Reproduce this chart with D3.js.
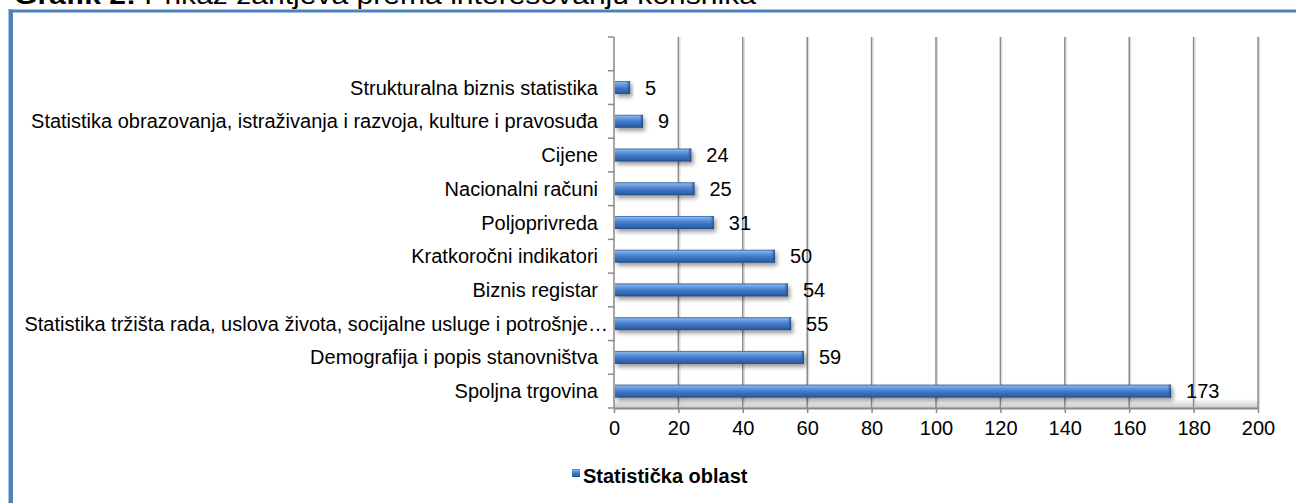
<!DOCTYPE html>
<html>
<head>
<meta charset="utf-8">
<script src="https://cdn.jsdelivr.net/npm/d3@7"></script>
<style>
  html, body { margin: 0; padding: 0; background: #fff; overflow: hidden; }
  svg { display: block; font-family: Arial, "Liberation Sans", sans-serif; }
</style>
</head>
<body>
<svg id="chart" width="1296" height="503"></svg>
<script>
// categories, top to bottom (first slot is an empty row in the source sheet)
var categories = [
	"",
	"Strukturalna biznis statistika",
	"Statistika obrazovanja, istraživanja i razvoja, kulture i pravosuđa",
	"Cijene",
	"Nacionalni računi",
	"Poljoprivreda",
	"Kratkoročni indikatori",
	"Biznis registar",
	"Statistika tržišta rada, uslova života, socijalne usluge i potrošnje…",
	"Demografija i popis stanovništva",
	"Spoljna trgovina"
];
var values = [null, 5, 9, 24, 25, 31, 50, 54, 55, 59, 173];
var xTicks = [0, 20, 40, 60, 80, 100, 120, 140, 160, 180, 200];
var seriesName = "Statistička oblast";
var titleBold = "Grafik 2:";
var titleRest = " Prikaz zahtjeva prema interesovanju korisnika";

var data = categories.map(function(c, i){
	return {name: c, value: values[i]};
});

var svg = d3.select("#chart");
var width = 1296, height = 503;
var fontSize = "20px";

// plot area
var plot = {left: 614, right: 1258, top: 37, bottom: 408};

var xScale = d3.scaleLinear()
	.domain([0, 200])
	.range([plot.left, plot.right]);

var yScale = d3.scaleBand()
	.domain(categories.map(function(d, i){ return i; }))
	.range([plot.top, plot.bottom])
	.padding(0);

var defs = svg.append("defs");

// bar gradient (bevel look)
var grad = defs.append("linearGradient")
	.attr("id", "barGrad")
	.attr("x1", 0).attr("y1", 0).attr("x2", 0).attr("y2", 1);
[["0%", "#2c5ea3"], ["12%", "#88b1e8"], ["28%", "#6198de"], ["58%", "#3d74c2"], ["85%", "#3062ab"], ["100%", "#224a86"]]
	.forEach(function(s){ grad.append("stop").attr("offset", s[0]).attr("stop-color", s[1]); });

var capGrad = defs.append("linearGradient")
	.attr("id", "capGrad")
	.attr("x1", 0).attr("y1", 0).attr("x2", 1).attr("y2", 0);
capGrad.append("stop").attr("offset", "0%").attr("stop-color", "#3f74bd").attr("stop-opacity", 0);
capGrad.append("stop").attr("offset", "100%").attr("stop-color", "#1f4377").attr("stop-opacity", 0.9);

var floorGrad = defs.append("linearGradient")
	.attr("id", "floorGrad")
	.attr("x1", 0).attr("y1", 0).attr("x2", 0).attr("y2", 1);
floorGrad.append("stop").attr("offset", "0%").attr("stop-color", "#ffffff");
floorGrad.append("stop").attr("offset", "100%").attr("stop-color", "#c8c8c8");

var shadow = defs.append("filter")
	.attr("id", "shadow")
	.attr("x", "-10%").attr("y", "-50%").attr("width", "130%").attr("height", "220%");
shadow.append("feDropShadow")
	.attr("dx", 2).attr("dy", 3)
	.attr("stdDeviation", 2)
	.attr("flood-color", "#000")
	.attr("flood-opacity", 0.4);

// chart frame (blue border)
svg.append("line")
	.attr("x1", 8).attr("x2", width)
	.attr("y1", 11).attr("y2", 11)
	.attr("stroke", "#4f81bd")
	.attr("stroke-width", 3);
svg.append("line")
	.attr("x1", 10.5).attr("x2", 10.5)
	.attr("y1", 9.5).attr("y2", height)
	.attr("stroke", "#4f81bd")
	.attr("stroke-width", 5);
svg.append("line")
	.attr("x1", 8.5).attr("x2", 8.5)
	.attr("y1", 9.5).attr("y2", height)
	.attr("stroke", "#a8c0de")
	.attr("stroke-width", 1);

// title (cut off at top, as in source)
var title = svg.append("text")
	.attr("x", 14)
	.attr("y", 4)
	.attr("textLength", 742)
	.attr("lengthAdjust", "spacingAndGlyphs")
	.style("font-size", "26px")
	.attr("fill", "#000");
title.append("tspan").style("font-weight", "bold").text(titleBold);
title.append("tspan").text(titleRest);

// floor band above the value axis
svg.append("rect")
	.attr("x", plot.left)
	.attr("y", plot.bottom - 9)
	.attr("width", plot.right - plot.left)
	.attr("height", 9)
	.attr("fill", "url(#floorGrad)");

// vertical gridlines
var grid = svg.append("g").attr("class", "grid");
grid.selectAll("line.g1")
	.data(xTicks.slice(1))
	.join("line")
	.attr("class", "g1")
	.attr("x1", d => xScale(d)).attr("x2", d => xScale(d))
	.attr("y1", plot.top).attr("y2", plot.bottom)
	.attr("stroke", "#8a8a8a")
	.attr("stroke-width", 1.5);
grid.selectAll("line.g2")
	.data(xTicks.slice(1))
	.join("line")
	.attr("class", "g2")
	.attr("x1", d => xScale(d) + 1.5).attr("x2", d => xScale(d) + 1.5)
	.attr("y1", plot.top).attr("y2", plot.bottom)
	.attr("stroke", "#d4d4d4")
	.attr("stroke-width", 1);

// value axis
var xAxis = d3.axisBottom(xScale)
	.tickValues(xTicks)
	.tickSize(5)
	.tickPadding(8)
	.tickSizeOuter(0);
var gx = svg.append("g")
	.attr("transform", "translate(0," + plot.bottom + ")")
	.call(xAxis);
gx.select(".domain").attr("stroke", "#8a8a8a").attr("stroke-width", 2);
gx.selectAll(".tick line").attr("stroke", "#8a8a8a").attr("stroke-width", 1.5);
gx.selectAll(".tick text")
	.attr("fill", "#000")
	.style("font-size", fontSize)
	.style("font-family", "Arial, 'Liberation Sans', sans-serif");

// category axis line and ticks at band edges
svg.append("line")
	.attr("x1", plot.left).attr("x2", plot.left)
	.attr("y1", plot.top).attr("y2", plot.bottom)
	.attr("stroke", "#8a8a8a")
	.attr("stroke-width", 1.5);
var edges = categories.map(function(d, i){ return yScale(i); }).concat([plot.bottom]);
svg.append("g").selectAll("line")
	.data(edges)
	.join("line")
	.attr("x1", plot.left - 6).attr("x2", plot.left)
	.attr("y1", d => d).attr("y2", d => d)
	.attr("stroke", "#8a8a8a")
	.attr("stroke-width", 1.5);

// category labels (truncated label overflows a bit, like Excel does)
svg.append("g").selectAll("text")
	.data(data)
	.join("text")
	.attr("x", d => d.name.slice(-1) === "…" ? plot.left - 6 : plot.left - 16)
	.attr("y", (d, i) => yScale(i) + yScale.bandwidth() / 2)
	.attr("dy", "0.35em")
	.attr("text-anchor", "end")
	.style("font-size", fontSize)
	.attr("fill", "#000")
	.text(d => d.name);

// bars
var barH = 13;
var bars = data.map(function(d, i){ return {d: d, i: i}; }).filter(function(o){ return o.d.value != null; });
var gBars = svg.append("g").attr("class", "bars");
var bar = gBars.selectAll("g")
	.data(bars)
	.join("g")
	.attr("filter", "url(#shadow)");
bar.append("rect")
	.attr("x", xScale(0) + 1)
	.attr("y", o => yScale(o.i) + yScale.bandwidth() / 2 - barH / 2)
	.attr("width", o => xScale(o.d.value) - xScale(0) - 1)
	.attr("height", barH)
	.attr("fill", "url(#barGrad)");
bar.append("rect")
	.attr("x", o => xScale(o.d.value) - 4)
	.attr("y", o => yScale(o.i) + yScale.bandwidth() / 2 - barH / 2)
	.attr("width", 4)
	.attr("height", barH)
	.attr("fill", "url(#capGrad)");

// value labels
svg.append("g").selectAll("text")
	.data(bars)
	.join("text")
	.attr("x", o => xScale(o.d.value) + 15)
	.attr("y", o => yScale(o.i) + yScale.bandwidth() / 2)
	.attr("dy", "0.35em")
	.style("font-size", fontSize)
	.attr("fill", "#000")
	.text(o => o.d.value);

// legend
var legend = svg.append("g")
	.attr("transform", "translate(572,476)");
legend.append("rect")
	.attr("x", 0).attr("y", -7)
	.attr("width", 8).attr("height", 8)
	.attr("fill", "url(#barGrad)");
legend.append("text")
	.attr("x", 11)
	.attr("y", 0)
	.attr("dy", "0.35em")
	.style("font-size", fontSize)
	.style("font-weight", "bold")
	.attr("fill", "#000")
	.text(seriesName);
</script>
</body>
</html>
